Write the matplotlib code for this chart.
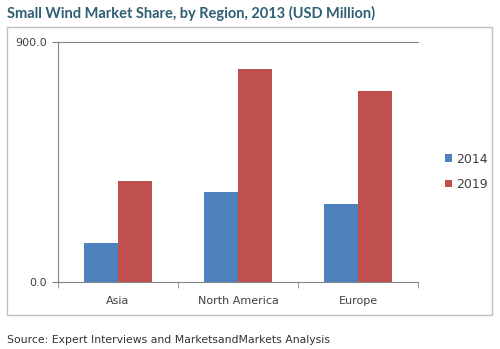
import numpy as np
import matplotlib
matplotlib.use("Agg")
import matplotlib.pyplot as plt
from matplotlib.patches import Rectangle

regions = ["Asia", "North America", "Europe"]
years = ["2014", "2019"]
vals_2014 = [144, 338, 290]
vals_2019 = [379, 798, 715]
colors = ["#4F81BD", "#C0504D"]

fig = plt.figure(figsize=(5.0, 3.49), dpi=100)
fig.patch.set_facecolor("white")

# outer frame around chart area
fig.add_artist(Rectangle((7/500, 1 - 315/349), 485/500, 288/349,
                         transform=fig.transFigure, fill=False,
                         edgecolor="#BFBFBF", linewidth=1.0))

ax = fig.add_axes([58/500, 1 - 281.7/349, 360/500, 240/349])
x = np.arange(len(regions))
w = 0.283
ax.bar(x - w/2, vals_2014, w, color=colors[0], label=years[0])
ax.bar(x + w/2, vals_2019, w, color=colors[1], label=years[1])

ax.set_xlim(-0.5, len(regions) - 0.5)
ax.set_ylim(0, 900)
ax.set_yticks([0, 900])
ax.set_yticklabels(["0.0", "900.0"])
ax.set_xticks(x)
ax.set_xticklabels(regions)
ax.set_xticks(np.arange(len(regions) + 1) - 0.5, minor=True)
ax.tick_params(axis="x", which="major", length=0, pad=10, labelsize=8, labelcolor="#404040")
ax.tick_params(axis="x", which="minor", length=4, color="#868686", direction="out")
ax.tick_params(axis="y", length=4, color="#868686", labelsize=8, labelcolor="#404040", pad=4)
ax.axhline(900, color="#868686", linewidth=0.8, clip_on=False)
for s in ["top", "right"]:
    ax.spines[s].set_visible(False)
for s in ["left", "bottom"]:
    ax.spines[s].set_color("#868686")
    ax.spines[s].set_linewidth(0.8)

leg = ax.legend(loc="upper left", bbox_to_anchor=(1.045, 0.585), frameon=False,
                fontsize=9, handlelength=0.55, handleheight=0.55, handletextpad=0.3,
                labelspacing=1.0, labelcolor="#404040")

fig.text(7/500, 1 - 13/349, "Small Wind Market Share, by Region, 2013 (USD Million)",
         family=["Lato", "DejaVu Sans"], fontweight="bold",
         fontsize=10.5, color="#2F5F73", ha="left", va="center")
fig.text(7/500, 1 - 340/349, "Source: Expert Interviews and MarketsandMarkets Analysis",
         fontsize=7.8, color="#333333", ha="left", va="center")

fig.savefig("out.png", dpi=100)
